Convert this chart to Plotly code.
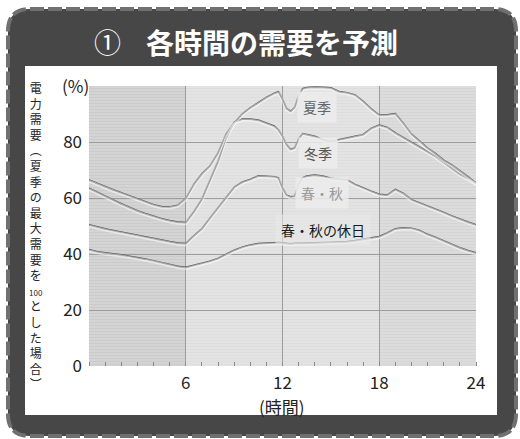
import plotly.graph_objects as go

# 時刻（時）
hours = [0, 0.5, 1, 1.5, 2, 2.5, 3, 3.5, 4, 4.5, 5, 5.5, 6, 6.5, 7, 7.5, 8, 8.5,
         9, 9.5, 10, 10.5, 11, 11.5, 11.75, 12, 12.25, 12.5, 12.75, 13, 13.25,
         13.5, 14, 14.5, 15, 15.5, 16, 16.5, 17, 17.5, 18, 18.5, 19, 19.5, 20,
         20.5, 21, 21.5, 22, 22.5, 23, 23.5, 24]

# 電力需要（夏季の最大需要を100とした場合）
summer = [66.4, 65.2, 64.1, 62.9, 61.9, 60.8, 59.8, 58.7, 57.6, 56.9, 56.8, 57.4,
          59.8, 64.8, 68.6, 71.4, 76.0, 82.8, 86.7, 90.0, 92.2, 94.0, 95.9, 97.4,
          97.9, 95.3, 92.0, 90.9, 92.3, 96.5, 99.0,
          99.4, 99.6, 99.5, 99.3, 98.0, 97.6, 96.8, 94.5, 91.8, 89.6, 89.7, 90.1,
          86.6, 82.8, 80.3, 77.8, 75.8, 73.5, 71.8, 69.8, 67.6, 65.3]
winter = [63.5, 62.0, 60.6, 59.3, 57.9, 56.6, 55.4, 54.4, 53.4, 52.6, 51.9, 51.4,
          51.2, 55.0, 59.5, 66.0, 73.0, 81.5, 87.0, 88.2, 88.2, 87.8, 86.8, 85.6,
          84.3, 82.0, 79.0, 77.3, 77.8, 81.0, 83.0,
          82.6, 82.0, 80.8, 80.1, 80.8, 81.5, 82.0, 82.6, 84.8, 86.0, 85.2, 83.2,
          81.5, 79.6, 78.0, 76.5, 74.8, 72.7, 70.6, 68.5, 67.0, 65.2]
spring_autumn = [50.4, 49.6, 49.0, 48.4, 47.8, 47.2, 46.6, 46.0, 45.4, 44.9, 44.4, 43.9,
                 43.7, 46.5, 49.0, 52.8, 56.5, 60.5, 63.8, 65.6, 66.6, 67.9, 67.8, 67.6,
                 67.2, 63.5, 61.0, 60.4, 60.6, 65.0, 67.2,
                 67.8, 68.2, 67.8, 67.0, 66.8, 66.4, 64.8, 63.5, 62.4, 61.3, 61.0, 63.0,
                 61.6, 59.4, 58.3, 57.2, 56.0, 54.8, 53.6, 52.4, 51.4, 50.4]
holiday = [41.6, 40.8, 40.4, 40.1, 39.7, 39.2, 38.8, 38.2, 37.6, 36.9, 36.2, 35.6,
           35.2, 35.9, 36.5, 37.4, 38.4, 39.8, 41.3, 42.4, 43.2, 43.7, 43.9, 43.9,
           44.1, 44.0, 43.7, 43.6, 43.8, 43.9, 43.8,
           43.9, 44.0, 44.0, 44.2, 44.3, 44.4, 44.8, 45.2, 45.6, 46.2, 47.5, 49.0,
           49.3, 49.2, 48.4, 47.0, 45.9, 44.6, 43.3, 42.2, 41.2, 40.4]

series_names = ["夏季", "冬季", "春・秋", "春・秋の休日"]
series_values = [summer, winter, spring_autumn, holiday]

x_ticks = [6, 12, 18, 24]
y_ticks = [0, 20, 40, 60, 80]

W_PX, H_PX = 520, 439
L, R, T, B = 89, 44, 86, 73
PW, PH = W_PX - L - R, H_PX - T - B

JP = "Noto Sans CJK JP"


def fx(px):
    return (px - L) / PW


def fy(py):
    return (H_PX - B - py) / PH


def rounded_rect(x0, y0, x1, y1, r):
    def p(a, b):
        return f"{fx(a):.5f},{fy(b):.5f}"
    return (f"M {p(x0 + r, y0)} L {p(x1 - r, y0)} Q {p(x1, y0)} {p(x1, y0 + r)} "
            f"L {p(x1, y1 - r)} Q {p(x1, y1)} {p(x1 - r, y1)} "
            f"L {p(x0 + r, y1)} Q {p(x0, y1)} {p(x0, y1 - r)} "
            f"L {p(x0, y0 + r)} Q {p(x0, y0)} {p(x0 + r, y0)} Z")


fig = go.Figure()

# soft light halo just under each curve (overlay axis shifted by about a pixel)
for vals in series_values:
    fig.add_trace(go.Scatter(x=hours, y=vals, mode="lines", yaxis="y2",
                             line=dict(color="rgba(255,255,255,0.5)", width=3),
                             hoverinfo="skip", showlegend=False))
for name, vals in zip(series_names, series_values):
    fig.add_trace(go.Scatter(x=hours, y=vals, mode="lines", name=name,
                             line=dict(color="#4c4c4c", width=1.7),
                             showlegend=False))

shapes = []
# dark outer panel with dashed rim
shapes.append(dict(type="path", xref="paper", yref="paper", layer="below",
                   path=rounded_rect(8, 9, 516, 436, 22),
                   fillcolor="#474747",
                   line=dict(color="#707070", width=4, dash="14px,4px")))
# white inner panel
shapes.append(dict(type="rect", xref="paper", yref="paper", layer="below",
                   x0=fx(25), x1=fx(497), y0=fy(415), y1=fy(66),
                   fillcolor="white", line=dict(width=0)))
# time-of-day background bands
for a, b, col in [(0, 6, "#cbcbcb"), (6, 18, "#dedede"), (18, 24, "#d5d5d5")]:
    shapes.append(dict(type="rect", xref="x", yref="paper", layer="below",
                       x0=a, x1=b, y0=0, y1=1, fillcolor=col, line=dict(width=0)))
# fine horizontal striping of the plot background
k = 0
while k * 3 < PH:
    yy = k * 3 / PH
    shapes.append(dict(type="line", xref="x", yref="paper", layer="below",
                       x0=0, x1=24, y0=yy, y1=yy,
                       line=dict(color="rgba(255,255,255,0.35)", width=1)))
    k += 1

annotations = []
# title
annotations.append(dict(xref="paper", yref="paper", x=fx(107), y=fy(42),
                        text="①", showarrow=False, xanchor="center", yanchor="middle",
                        font=dict(family=JP, size=27, color="white")))
annotations.append(dict(xref="paper", yref="paper", x=fx(272), y=fy(42),
                        text="<b>各時間の需要を予測</b>", showarrow=False,
                        xanchor="center", yanchor="middle",
                        font=dict(family=JP, size=28, color="white")))
# axis captions
annotations.append(dict(xref="paper", yref="paper", x=fx(75), y=fy(85),
                        text="(%)", showarrow=False, xanchor="center", yanchor="middle",
                        font=dict(family=JP, size=17, color="#222222")))
annotations.append(dict(xref="paper", yref="paper", x=fx(282), y=fy(406),
                        text="(時間)", showarrow=False, xanchor="center", yanchor="middle",
                        font=dict(family=JP, size=17, color="#222222")))
# vertical y-axis title, one glyph per line
y_title = ["電", "力", "需", "要", "︵", "夏", "季", "の", "最", "大", "需", "要", "を",
           "<span style='font-size:8px'>100</span>", "と", "し", "た", "場", "合", "︶"]
annotations.append(dict(xref="paper", yref="paper", x=fx(36), y=fy(235),
                        text="<br>".join(y_title), showarrow=False,
                        xanchor="center", yanchor="middle", align="center",
                        font=dict(family=JP, size=12, color="#222222")))
# curve labels
label_pos = [(14.15, 92.5, "#666666", "rgba(236,236,236,0.85)"),
             (14.2, 76.0, "#555555", "rgba(236,236,236,0.85)"),
             (14.45, 61.8, "#9a9a9a", "rgba(236,236,236,0.85)"),
             (14.5, 48.6, "#1a1a1a", "rgba(232,232,232,0.6)")]
for name, (lx, ly, col, bg) in zip(series_names, label_pos):
    annotations.append(dict(x=lx, y=ly, xref="x", yref="y", text=name, showarrow=False,
                            xanchor="center", yanchor="middle", bgcolor=bg, borderpad=5,
                            font=dict(family=JP, size=14, color=col)))

fig.update_layout(
    width=W_PX, height=H_PX,
    margin=dict(l=L, r=R, t=T, b=B),
    paper_bgcolor="white",
    plot_bgcolor="rgba(0,0,0,0)",
    shapes=shapes,
    annotations=annotations,
    showlegend=False,
    xaxis=dict(range=[0, 24], tickvals=x_ticks, ticktext=[str(v) for v in x_ticks],
               showgrid=True, gridcolor="#9c9c9c", gridwidth=1, zeroline=False,
               showline=False, ticks="", ticklabelstandoff=5,
               minor=dict(dtick=1, tick0=0, ticks="inside", ticklen=4,
                          tickcolor="#8a8a8a", tickwidth=1, showgrid=False),
               tickfont=dict(family=JP, size=17, color="#222222"), fixedrange=True),
    yaxis=dict(range=[0, 100], tickvals=y_ticks, showgrid=True, gridcolor="#9c9c9c",
               gridwidth=1, zeroline=False, showline=False, ticks="",
               ticklabelstandoff=6,
               tickfont=dict(family=JP, size=17, color="#222222"), fixedrange=True),
    yaxis2=dict(range=[0.4, 100.4], overlaying="y", visible=False, fixedrange=True),
)

fig.write_html("out.html")
